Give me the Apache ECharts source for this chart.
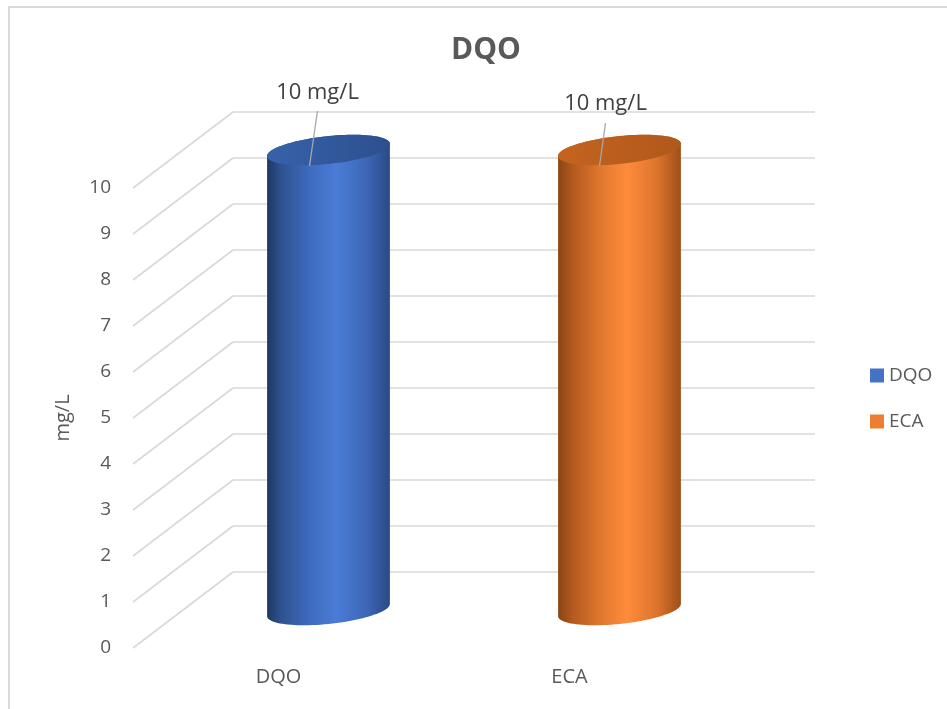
<!DOCTYPE html>
<html>
<head>
<meta charset="utf-8">
<script src="https://cdn.jsdelivr.net/npm/echarts@6/dist/echarts.min.js"></script>
<style>
  html, body { margin: 0; padding: 0; background: #ffffff; }
  #chart { width: 947px; height: 709px; }
</style>
</head>
<body>
<div id="chart"></div>
<script>
// Chart data
const chartTitle = 'DQO';
const categories = ['DQO', 'ECA'];
const seriesNames = ['DQO', 'ECA'];
const dqoValues = [10, null];
const ecaValues = [null, 10];
const valueUnit = 'mg/L';
const yMin = 0;
const yMax = 10;
const yStep = 1;
const yTicks = [0, 1, 2, 3, 4, 5, 6, 7, 8, 9, 10];

// Pseudo-3D layout: depth offset of the back wall relative to the front plane
const DEPTH_X = 100;
const DEPTH_Y = -76;
const TEXT_FONT = "'Open Sans', sans-serif";
const TEXT_COLOR = '#595959';

const palette = {
  DQO: {
    legend: '#4472C4',
    body: ['#1f3763', '#2f5391', '#3e6bbf', '#4a7cd6', '#3d68b8', '#2a4a86'],
    top: ['#3762ab', '#2d4f8e']
  },
  ECA: {
    legend: '#ED7D31',
    body: ['#8a4414', '#b35a1f', '#e0782f', '#ff8b3b', '#de752e', '#9f4f19'],
    top: ['#c4641f', '#b0581b']
  }
};
// Data label nudges per series (pixels relative to the cylinder's top centre)
const labelNudge = {
  DQO: { text: [-11, -57], lineFrom: [-11, -39], lineTo: [-19, 16] },
  ECA: { text: [-14, -46], lineFrom: [-14, -27], lineTo: [-20, 16] }
};

function toPoints(values) {
  const out = [];
  values.forEach(function (v, i) { if (v != null) out.push([i, v]); });
  return out;
}

// Back wall and side wall gridlines
function renderWalls(params, api) {
  const cs = params.coordSys;
  const y = api.coord([0, api.value(1)])[1];
  const fx = cs.x;
  const bx = fx + DEPTH_X;
  const by = y + DEPTH_Y;
  const style = { stroke: '#d9d9d9', lineWidth: 1.6, fill: null };
  return {
    type: 'group',
    children: [
      { type: 'line', shape: { x1: fx, y1: y, x2: bx, y2: by }, style: style },
      { type: 'line', shape: { x1: bx, y1: by, x2: cs.x + cs.width + DEPTH_X, y2: by }, style: style }
    ]
  };
}

function makeCylinderRenderer(name) {
  const pal = palette[name];
  const nudge = labelNudge[name];
  return function (params, api) {
    const idx = api.value(0);
    const val = api.value(1);
    const base = api.coord([idx, yMin]);
    const top = api.coord([idx, val]);
    const bw = api.size([1, 0])[0] * 0.422;
    const cx = base[0] + DEPTH_X / 2;
    const baseY = base[1] + DEPTH_Y / 2;
    const topY = top[1] + DEPTH_Y / 2;
    const a = bw / 2;
    const b = 14;
    const shear = -0.1;
    function E(cy, t) {
      const c = Math.cos(t), s = Math.sin(t);
      return [cx + a * c, cy + b * s + shear * a * c];
    }
    const N = 48;
    const body = [];
    for (let k = 0; k <= N; k++) body.push(E(topY, -Math.PI * k / N));
    for (let k = 0; k <= N; k++) body.push(E(baseY, Math.PI - Math.PI * k / N));
    const cap = [];
    for (let k = 0; k < N * 2; k++) cap.push(E(topY, Math.PI * k / N));
    const stopPos = [0, 0.12, 0.35, 0.56, 0.8, 1];
    const bodyStops = pal.body.map(function (c, i) {
      return { offset: stopPos[i], color: c };
    });
    return {
      type: 'group',
      children: [
        {
          type: 'polygon',
          shape: { points: body },
          style: { fill: new echarts.graphic.LinearGradient(0, 0, 1, 0, bodyStops) }
        },
        {
          type: 'polygon',
          shape: { points: cap },
          style: {
            fill: new echarts.graphic.LinearGradient(0, 0, 1, 0, [
              { offset: 0, color: pal.top[0] },
              { offset: 1, color: pal.top[1] }
            ])
          }
        },
        {
          type: 'line',
          shape: {
            x1: cx + nudge.lineFrom[0], y1: topY + nudge.lineFrom[1],
            x2: cx + nudge.lineTo[0], y2: topY + nudge.lineTo[1]
          },
          style: { stroke: '#a6a6a6', lineWidth: 1.3 }
        },
        {
          type: 'text',
          x: cx + nudge.text[0],
          y: topY + nudge.text[1],
          style: {
            text: val + ' ' + valueUnit,
            fill: '#404040',
            font: '22px ' + TEXT_FONT,
            align: 'center',
            verticalAlign: 'middle'
          }
        }
      ]
    };
  };
}

const chart = echarts.init(document.getElementById('chart'), null, { renderer: 'canvas' });

const option = {
  backgroundColor: '#ffffff',
  animation: false,
  title: {
    text: chartTitle,
    left: 446,
    top: 30,
    textStyle: { fontFamily: TEXT_FONT, fontSize: 30, fontWeight: 'bold', color: TEXT_COLOR }
  },
  legend: {
    orient: 'vertical',
    left: 865,
    top: 361,
    itemWidth: 14,
    itemHeight: 14,
    itemGap: 27,
    icon: 'rect',
    data: seriesNames,
    textStyle: { fontFamily: TEXT_FONT, fontSize: 19, color: TEXT_COLOR }
  },
  grid: { left: 133, right: 232, top: 188, bottom: 61, containLabel: false },
  xAxis: {
    type: 'category',
    data: categories,
    boundaryGap: true,
    axisLine: { show: false },
    axisTick: { show: false },
    splitLine: { show: false },
    axisLabel: { fontFamily: TEXT_FONT, fontSize: 20, color: TEXT_COLOR, margin: 19 }
  },
  yAxis: {
    type: 'value',
    min: yMin,
    max: yMax,
    interval: yStep,
    name: valueUnit,
    nameLocation: 'middle',
    nameRotate: 90,
    nameGap: 60,
    nameTextStyle: { fontFamily: TEXT_FONT, fontSize: 20, color: TEXT_COLOR },
    axisLine: { show: false },
    axisTick: { show: false },
    splitLine: { show: false },
    axisLabel: { fontFamily: TEXT_FONT, fontSize: 19, color: TEXT_COLOR, margin: 22 }
  },
  graphic: [
    { type: 'line', shape: { x1: 8, y1: 7, x2: 947, y2: 7 }, style: { stroke: '#d9d9d9', lineWidth: 2 }, silent: true },
    { type: 'line', shape: { x1: 9, y1: 6, x2: 9, y2: 709 }, style: { stroke: '#d9d9d9', lineWidth: 2 }, silent: true }
  ],
  series: [
    {
      name: 'walls',
      type: 'custom',
      renderItem: renderWalls,
      data: yTicks.map(function (v) { return [0, v]; }),
      encode: { x: 0, y: 1 },
      silent: true,
      z: 1,
      legendHoverLink: false
    },
    {
      name: seriesNames[0],
      type: 'custom',
      renderItem: makeCylinderRenderer('DQO'),
      data: toPoints(dqoValues),
      encode: { x: 0, y: 1 },
      itemStyle: { color: palette.DQO.legend },
      z: 3
    },
    {
      name: seriesNames[1],
      type: 'custom',
      renderItem: makeCylinderRenderer('ECA'),
      data: toPoints(ecaValues),
      encode: { x: 0, y: 1 },
      itemStyle: { color: palette.ECA.legend },
      z: 3
    }
  ]
};

chart.setOption(option);
</script>
</body>
</html>
